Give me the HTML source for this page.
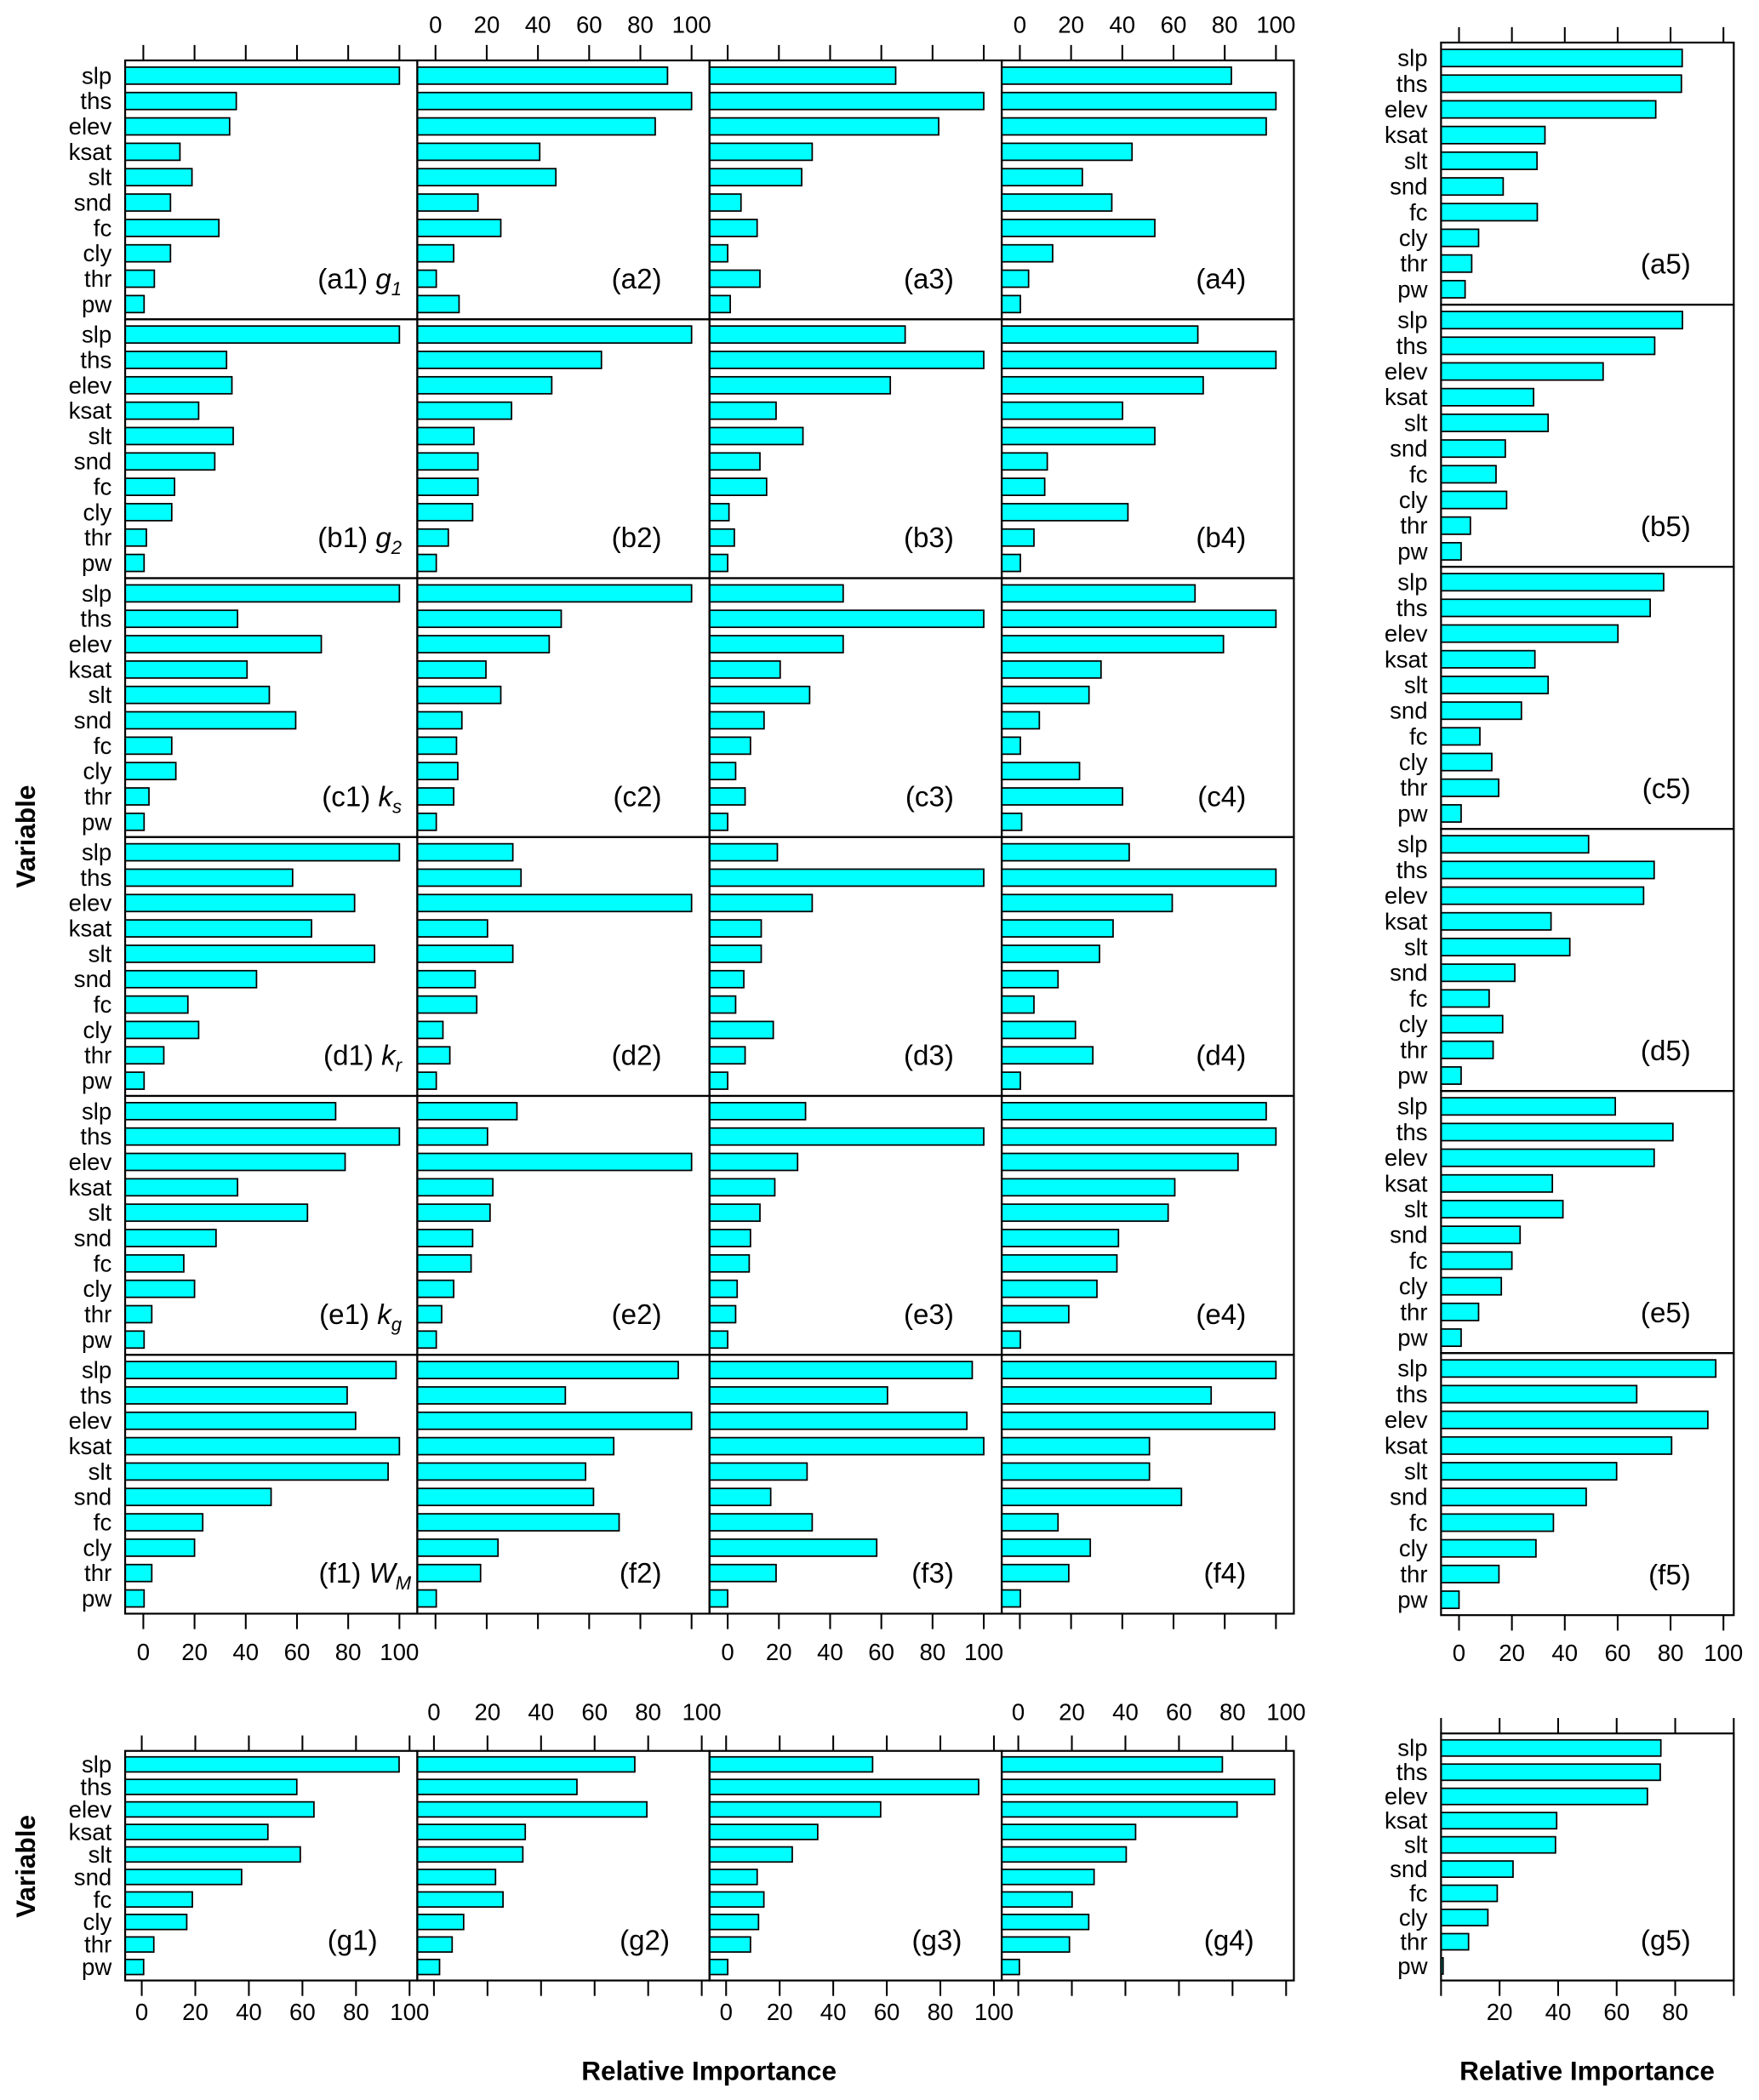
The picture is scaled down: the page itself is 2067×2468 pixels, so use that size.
<!DOCTYPE html>
<html><head><meta charset="utf-8">
<style>
html,body{margin:0;padding:0;background:#fff;}
svg{display:block;}
text{font-family:"Liberation Sans",Arial,sans-serif;fill:#000;}
</style></head>
<body>
<svg id="chart" xmlns="http://www.w3.org/2000/svg" width="2067" height="2468" viewBox="0 0 1310 1564" preserveAspectRatio="none">
<rect x="0" y="0" width="1310" height="1564" fill="#fff"/>
<text x="0" y="0" transform="translate(26,623) rotate(-90)" text-anchor="middle" font-size="20" font-weight="bold">Variable</text>
<text x="0" y="0" transform="translate(26,1390) rotate(-90)" text-anchor="middle" font-size="20" font-weight="bold">Variable</text>
<text x="528" y="1549" text-anchor="middle" font-size="20" font-weight="bold">Relative Importance</text>
<text x="1182" y="1549" text-anchor="middle" font-size="20" font-weight="bold">Relative Importance</text>
</svg>
<script>
const categories=['slp','ths','elev','ksat','slt','snd','fc','cly','thr','pw'];
const tickValues=[0,20,40,60,80,100];
const tickLabels=['0','20','40','60','80','100'];
const rowLetters=['a','b','c','d','e','f','g'];
const symbolMain=['g','g','k','k','k','W'];
const symbolSub=['1','2','s','r','g','M'];
const rowA=[[100,36.3,33.7,14.3,19,10.6,29.5,10.6,4.3,0.3],[90.6,100,85.8,40.7,47,16.6,25.5,7.1,0.3,9.2],[65.6,100,82.4,33,28.9,5.2,11.5,0,12.6,1],[82.6,100,96.2,43.8,24.4,35.9,52.7,12.8,3.4,0.2],[84.4,84.1,74.4,32.5,29.5,16.7,29.6,7.4,4.8,2.3]];
const rowB=[[100,32.5,34.6,21.6,35.1,27.9,12.2,11.1,1.2,0.3],[100,64.8,45.4,29.7,15,16.6,16.6,14.5,5,0.3],[69.3,100,63.5,18.9,29.4,12.6,15.2,0.5,2.6,0],[69.5,100,71.6,40.1,52.7,10.7,9.7,42.2,5.5,0.2],[84.5,74,54.5,28.2,33.7,17.5,14,18,4.3,0.8]];
const rowC=[[100,36.8,69.5,40.5,49.2,59.5,11.1,12.7,2.2,0.3],[100,49.1,44.4,19.7,25.5,10.3,8.2,8.7,7.1,0.3],[45.1,100,45.1,20.5,32,14.2,8.9,3.1,6.8,0],[68.4,100,79.5,31.7,27,7.6,0.2,23.3,40.1,0.7],[77.4,72.3,60.1,28.7,33.7,23.6,7.9,12.4,15,0.8]];
const rowD=[[100,58.3,82.5,65.7,90.3,44.2,17.4,21.6,8,0.3],[30.2,33.4,100,20.3,30.2,15.5,16.1,2.9,5.6,0.3],[19.4,100,33,13.1,13.1,6.3,3.1,17.8,6.8,0],[42.7,100,59.5,36.4,31.1,14.9,5.5,21.7,28.5,0.2],[49,73.8,69.8,34.8,41.9,21.1,11.4,16.5,12.9,0.8]];
const rowE=[[75.1,100,78.8,36.8,64.1,28.4,15.8,20,3.3,0.3],[31.8,20.3,100,22.4,21.3,14.5,13.9,7.1,2.4,0.3],[30.4,100,27.3,18.4,12.6,8.9,8.4,3.7,3.1,0],[96.2,100,85.2,60.5,57.9,38.5,37.9,30.1,19.1,0.2],[59.1,80.9,73.8,35.3,39.3,23.1,20,16,7.4,0.8]];
const rowF=[[98.7,79.6,82.9,100,95.6,49.9,23.2,20,3.3,0.3],[94.8,50.7,100,69.6,58.6,61.7,71.7,24.4,17.6,0.3],[95.5,62.4,93.4,100,31,16.8,33,58.2,18.9,0],[100,74.7,99.5,50.6,50.6,63.1,14.9,27.5,19.1,0.2],[97.1,67.2,94.1,80.4,59.6,48.1,35.7,29.1,15.1,0]];
const rowG=[[96.1,57.9,64.3,47.1,59.2,37.3,18.9,16.8,4.5,0.7],[75,53.4,79.5,34.1,33.2,23,25.8,11.1,6.8,2.1],[54.7,94.3,57.7,34.2,24.7,11.6,14.1,12.1,9.1,0.6],[76.2,95.7,81.7,43.8,40.3,28.3,20.1,26.3,19.1,0.4],[75.1,74.9,70.5,39.5,39.1,24.6,19.2,16,9.4,0.7]];
const allRows=[rowA,rowB,rowC,rowD,rowE,rowF,rowG];

const NS='http://www.w3.org/2000/svg';
const svg=document.getElementById('chart');
function mk(tag,attrs,parent){const e=document.createElementNS(NS,tag);for(const k in attrs)e.setAttribute(k,attrs[k]);(parent||svg).appendChild(e);return e;}

const mainLeft=93.2,colW=217.6,mainTop=45,mainRowH=192.8;
const rightLeft=1073.2,rightW=218,rightTop=31.7,rightRowH=195.2;
const gTop=1304,gBottom=1475,g5Top=1291;
const domMain=[-7.1,107.0],domG=[-6.2,102.9],domRight=[-6.8,103.9],domG5=[0,100];

function xScale(dom,left,w){return v=>left+(v-dom[0])/(dom[1]-dom[0])*w;}
function yScale(top,h){const u=h/10.2;return i=>top+(0.6+i)*u;}

function panelGeom(r,c){
  if(r<6){
    if(c<4) return {left:mainLeft+c*colW,w:colW,top:mainTop+r*mainRowH,h:mainRowH,dom:domMain};
    return {left:rightLeft,w:rightW,top:rightTop+r*rightRowH,h:rightRowH,dom:domRight};
  }
  if(c<4) return {left:mainLeft+c*colW,w:colW,top:gTop,h:gBottom-gTop,dom:domG};
  return {left:rightLeft,w:rightW,top:g5Top,h:gBottom-g5Top,dom:domG5};
}

for(let r=0;r<7;r++){
  for(let c=0;c<5;c++){
    const g=panelGeom(r,c);
    const vals=allRows[r][c];
    const X=xScale(g.dom,g.left,g.w), Y=yScale(g.top,g.h);
    const unit=g.h/10.2, bh=unit*0.67;
    const grp=mk('g',{});
    
    
    for(let i=0;i<categories.length;i++){
      const y=Y(i);
      const bar=mk('rect',{x:g.left,y:y-bh/2,width:Math.max(0.5,X(vals[i])-g.left),height:bh,fill:'#00FFFF',stroke:'#000','stroke-width':1.1},grp);
      
      
      if(c===0||c===4){
        const t=mk('text',{x:g.left-10,y:y+6,'text-anchor':'end','font-size':17.5},grp);
        t.textContent=categories[i];
        
        
      }
    }
    const border=mk('rect',{x:g.left,y:g.top,width:g.w,height:g.h,fill:'none',stroke:'#000','stroke-width':1.4},grp);
    
    
    const bottom=g.top+g.h;
    const endOff=(c===4)?186:(r===6?188:182);
    const lab=mk('text',{'text-anchor':'end','font-size':21,y:bottom-23},grp);
    
    
    if(c===0&&r<6){
      lab.setAttribute('x',g.left+(r===5?213:206));
      const t1=mk('tspan',{},lab);t1.textContent='('+rowLetters[r]+'1) ';
      const t2=mk('tspan',{'font-style':'italic'},lab);t2.textContent=symbolMain[r];
      const t3=mk('tspan',{'font-style':'italic','font-size':14,dy:5},lab);t3.textContent=symbolSub[r];
    } else {
      lab.setAttribute('x',g.left+endOff);
      lab.textContent='('+rowLetters[r]+(c+1)+')';
    }
  }
}

function ticks(c,yEdge,dir,dom,left,w,labelY,showLabels,skipEdge){
  const X=xScale(dom,left,w);
  tickValues.forEach((v,k)=>{
    const x=X(v);
    const tk=mk('line',{x1:x,x2:x,y1:yEdge,y2:yEdge+dir*11.5,stroke:'#000','stroke-width':1.3});
    
    
    if(showLabels && !(skipEdge&&(v===0||v===100))){
      const t=mk('text',{x:x,y:labelY,'text-anchor':'middle','font-size':17.5});
      t.textContent=tickLabels[k];
      
      
    }
  });
}
for(let c=0;c<4;c++){
  const left=mainLeft+c*colW;
  ticks(c,mainTop,-1,domMain,left,colW,24.5,c%2===1,false);
  ticks(c,mainTop+6*mainRowH,1,domMain,left,colW,1236.5,c%2===0,false);
  ticks(c,gTop,-1,domG,left,colW,1281,c%2===1,false);
  ticks(c,gBottom,1,domG,left,colW,1504.5,c%2===0,false);
}
ticks(4,rightTop,-1,domRight,rightLeft,rightW,0,false,false);
ticks(4,rightTop+6*rightRowH,1,domRight,rightLeft,rightW,1237,true,false);
ticks(4,g5Top,-1,domG5,rightLeft,rightW,0,false,false);
ticks(4,gBottom,1,domG5,rightLeft,rightW,1504.5,true,true);
</script>
</body></html>
